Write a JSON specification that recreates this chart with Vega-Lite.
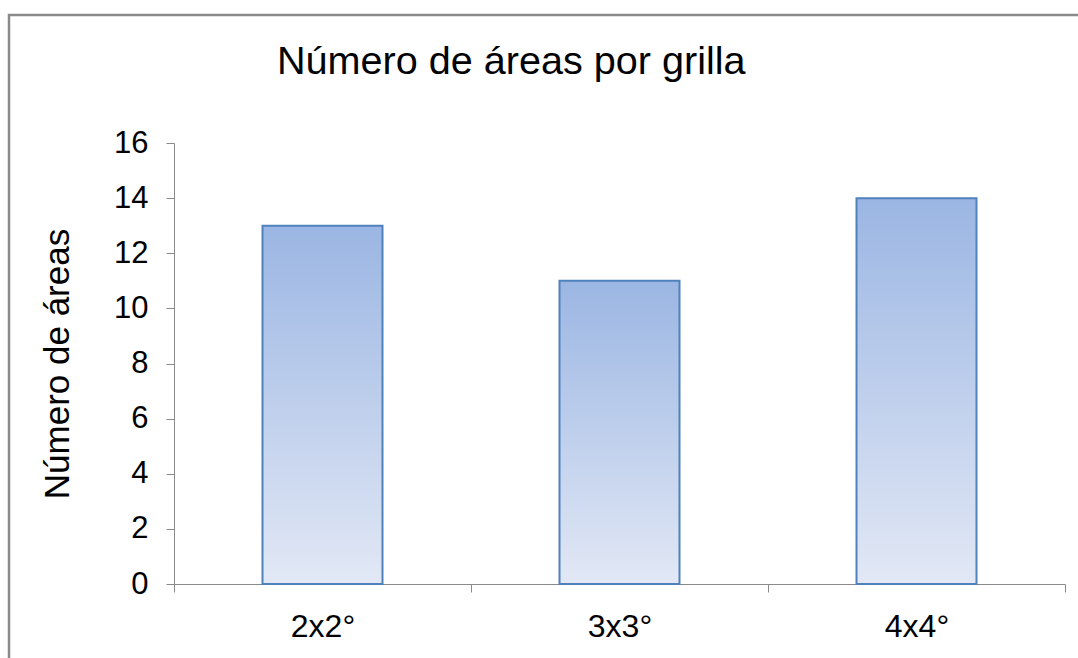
{
  "$schema": "https://vega.github.io/schema/vega-lite/v6.json",
  "autosize": {"type": "none"},
  "padding": {"left": 9, "top": 15, "right": -41, "bottom": -57},
  "width": 1110,
  "height": 700,
  "background": "white",
  "view": {"stroke": "#8a8a8a", "strokeWidth": 2.5, "fill": "white"},
  "title": {
    "text": "Número de áreas por grilla",
    "anchor": "start",
    "frame": "group",
    "dx": 268,
    "dy": 99,
    "offset": 0,
    "baseline": "alphabetic",
    "font": "Liberation Sans",
    "fontSize": 39.6,
    "fontWeight": "normal",
    "color": "#000000"
  },
  "data": {
    "values": [
      {"grilla": "2x2°", "areas": 13},
      {"grilla": "3x3°", "areas": 11},
      {"grilla": "4x4°", "areas": 14}
    ]
  },
  "mark": {
    "type": "bar",
    "width": {"band": 0.404},
    "stroke": "#4f81bd",
    "strokeWidth": 2,
    "color": {
      "gradient": "linear",
      "x1": 0, "y1": 0, "x2": 0, "y2": 1,
      "stops": [
        {"offset": 0, "color": "#9bb6e3"},
        {"offset": 1, "color": "#e2e8f5"}
      ]
    }
  },
  "encoding": {
    "x": {
      "field": "grilla",
      "type": "nominal",
      "sort": null,
      "scale": {"range": [165, 1056], "paddingInner": 0, "paddingOuter": 0},
      "axis": {
        "title": null,
        "offset": -131,
        "labelAngle": 0,
        "tickBand": "extent",
        "tickSize": 8,
        "tickColor": "#8a8a8a",
        "domainColor": "#8a8a8a",
        "labelFont": "Liberation Sans",
        "labelFontSize": 32,
        "labelColor": "#000000",
        "labelPadding": 19
      }
    },
    "y": {
      "field": "areas",
      "type": "quantitative",
      "scale": {"domain": [0, 16], "range": [569, 128], "nice": false},
      "axis": {
        "title": "Número de áreas",
        "offset": -165,
        "values": [0, 2, 4, 6, 8, 10, 12, 14, 16],
        "grid": false,
        "tickSize": 8,
        "tickColor": "#8a8a8a",
        "domainColor": "#8a8a8a",
        "labelFont": "Liberation Sans",
        "labelFontSize": 31,
        "labelColor": "#000000",
        "labelPadding": 18,
        "titleFont": "Liberation Sans",
        "titleFontSize": 35,
        "titleFontWeight": "normal",
        "titleColor": "#000000",
        "titlePadding": 38
      }
    }
  }
}
